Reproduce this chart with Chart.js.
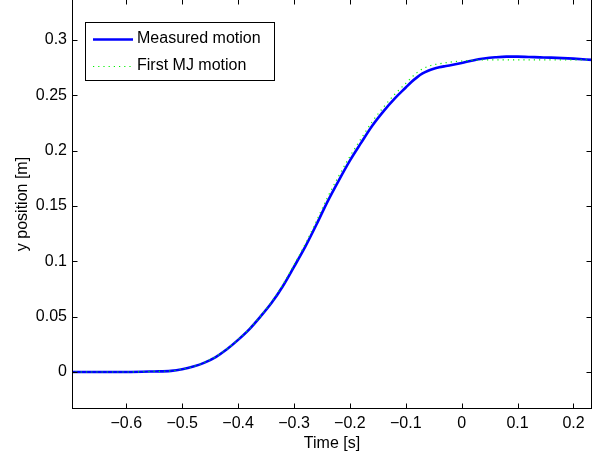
<!DOCTYPE html>
<html><head><meta charset="utf-8">
<script src="https://cdn.jsdelivr.net/npm/chart.js@4"></script>
<style>
html,body{margin:0;padding:0;background:#fff;}
#wrap{position:relative;width:603px;height:453px;overflow:hidden;background:#fff;}
#c{position:absolute;left:0;top:-1px;}
</style></head><body>
<div id="wrap"><canvas id="c" width="603" height="454"></canvas></div>
<script>
// ---- data ----
const seriesNames = ['Measured motion', 'First MJ motion'];
const timeMeasured = [-0.70,-0.65,-0.60,-0.55,-0.52,-0.50,-0.48,-0.46,-0.44,-0.42,-0.40,-0.38,-0.36,-0.34,-0.32,-0.30,-0.28,-0.26,-0.24,-0.22,-0.20,-0.18,-0.16,-0.14,-0.12,-0.10,-0.09,-0.08,-0.07,-0.06,-0.05,-0.04,-0.03,-0.02,0.00,0.02,0.04,0.06,0.08,0.10,0.12,0.14,0.16,0.18,0.20,0.233];
const yMeasured    = [0.0000,0.0000,0.0000,0.0005,0.0010,0.0025,0.0050,0.0085,0.0135,0.0205,0.0290,0.0385,0.0500,0.0625,0.0775,0.0950,0.1130,0.1330,0.1540,0.1730,0.1910,0.2070,0.2225,0.2355,0.2470,0.2570,0.2620,0.2662,0.2697,0.2722,0.2740,0.2753,0.2763,0.2772,0.2792,0.2815,0.2832,0.2843,0.2849,0.2849,0.2846,0.2843,0.2840,0.2836,0.2831,0.2820];
const timeMJ = [-0.70,-0.65,-0.60,-0.55,-0.52,-0.50,-0.48,-0.46,-0.44,-0.42,-0.40,-0.38,-0.36,-0.34,-0.32,-0.30,-0.28,-0.26,-0.24,-0.22,-0.20,-0.18,-0.16,-0.14,-0.12,-0.10,-0.08,-0.06,-0.04,-0.02,0.00,0.02,0.04,0.06,0.08,0.10,0.12,0.14,0.16,0.18,0.20,0.233];
const yMJ          = [0.0000,0.0000,0.0000,0.0005,0.0010,0.0025,0.0050,0.0087,0.0138,0.0208,0.0293,0.0390,0.0505,0.0635,0.0790,0.0968,0.1155,0.1362,0.1578,0.1770,0.1948,0.2108,0.2262,0.2392,0.2508,0.2608,0.2705,0.2762,0.2785,0.2800,0.2810,0.2816,0.2820,0.2820,0.2820,0.2820,0.2820,0.2820,0.2820,0.2820,0.2820,0.2820];
const xTickValues = [-0.6,-0.5,-0.4,-0.3,-0.2,-0.1,0,0.1,0.2];
const xTickLabels = ['\u22120.6','\u22120.5','\u22120.4','\u22120.3','\u22120.2','\u22120.1','0','0.1','0.2'];
const yTickValues = [0,0.05,0.1,0.15,0.2,0.25,0.3];
const yTickLabels = ['0','0.05','0.1','0.15','0.2','0.25','0.3'];
const xTitle = 'Time [s]';
const yTitle = 'y position [m]';

// ---- chart ----
const FONT = "'Liberation Sans', Arial, Helvetica, sans-serif";
Chart.defaults.font.family = FONT;
Chart.defaults.font.size = 16;
Chart.defaults.color = '#000';

function labelFor(values, labels, v) {
  for (let i = 0; i < values.length; i++) if (Math.abs(values[i] - v) < 1e-9) return labels[i];
  return '';
}

const framePlugin = {
  id: 'frame',
  afterDatasetsDraw(chart) {
    const {ctx, chartArea: a, scales: {x, y}} = chart;
    ctx.save();
    ctx.strokeStyle = '#000';
    ctx.lineWidth = 1;
    const L = Math.round(a.left) + 0.5, R = Math.round(a.right) - 0.5;
    const T = Math.round(a.top) + 0.5, B = Math.round(a.bottom) - 0.5;
    ctx.strokeRect(L, T, R - L, B - T);
    const tl = 5;
    ctx.beginPath();
    x.ticks.forEach(t => {
      const px = Math.round(x.getPixelForValue(t.value)) + 0.5;
      ctx.moveTo(px, B); ctx.lineTo(px, B - tl);
      ctx.moveTo(px, T); ctx.lineTo(px, T + tl);
    });
    y.ticks.forEach(t => {
      const py = Math.round(y.getPixelForValue(t.value)) + 0.5;
      ctx.moveTo(L, py); ctx.lineTo(L + tl, py);
      ctx.moveTo(R, py); ctx.lineTo(R - tl, py);
    });
    ctx.stroke();
    ctx.restore();
  },
  afterDraw(chart) {
    const ctx = chart.ctx;
    const ds = chart.data.datasets;
    ctx.save();
    const bx = 85.5, by = 23.5, bw = 189, bh = 58;
    ctx.fillStyle = '#fff';
    ctx.fillRect(bx, by, bw, bh);
    ctx.strokeStyle = '#000';
    ctx.lineWidth = 1;
    ctx.strokeRect(bx, by, bw, bh);
    const rows = [40, 67];
    [0, 1].forEach((di, i) => {
      const d = ds[di];
      const yy = rows[i];
      ctx.save();
      ctx.strokeStyle = d.borderColor;
      ctx.lineWidth = d.borderWidth;
      ctx.setLineDash(d.borderDash || []);
      ctx.beginPath();
      ctx.moveTo(93, yy + 0.5);
      ctx.lineTo(133, yy + 0.5);
      ctx.stroke();
      ctx.restore();
      ctx.fillStyle = '#000';
      ctx.font = '16px ' + FONT;
      ctx.textBaseline = 'middle';
      ctx.textAlign = 'left';
      ctx.fillText(d.label, 137, yy);
    });
    ctx.restore();
  }
};

new Chart(document.getElementById('c'), {
  type: 'line',
  data: {
    datasets: [
      {
        label: seriesNames[0],
        data: timeMeasured.map((t, i) => ({x: t, y: yMeasured[i]})),
        borderColor: '#0000ff',
        borderWidth: 2.6,
        pointRadius: 0,
        cubicInterpolationMode: 'monotone',
        fill: false,
        order: 2
      },
      {
        label: seriesNames[1],
        data: timeMJ.map((t, i) => ({x: t, y: yMJ[i]})),
        borderColor: '#00f000',
        borderWidth: 1.2,
        borderDash: [1.2, 4],
        pointRadius: 0,
        cubicInterpolationMode: 'monotone',
        fill: false,
        order: 1
      }
    ]
  },
  options: {
    responsive: false,
    animation: false,
    devicePixelRatio: 1,
    layout: {padding: {left: 0, right: 11, top: 0, bottom: 0}},
    plugins: {legend: {display: false}, tooltip: {enabled: false}},
    scales: {
      x: {
        type: 'linear',
        min: -0.6971,
        max: 0.2331,
        grid: {display: false, drawTicks: false},
        border: {display: false},
        ticks: {
          padding: 5,
          maxRotation: 0,
          autoSkip: false,
          callback: v => labelFor(xTickValues, xTickLabels, v)
        },
        afterBuildTicks: s => { s.ticks = xTickValues.map(v => ({value: v})); },
        title: {display: true, text: xTitle, padding: {top: 0, bottom: 0}, font: {size: 16}},
        afterFit: s => { s.height = 44; s.paddingLeft = 0; s.paddingRight = 0; }
      },
      y: {
        type: 'linear',
        min: -0.03343,
        max: 0.3370,
        grid: {display: false, drawTicks: false},
        border: {display: false},
        ticks: {
          padding: 5,
          autoSkip: false,
          callback: v => labelFor(yTickValues, yTickLabels, v)
        },
        afterBuildTicks: s => { s.ticks = yTickValues.map(v => ({value: v})); },
        title: {display: true, text: yTitle, padding: {top: 13, bottom: 0}, font: {size: 16}},
        afterFit: s => { s.width = 72; s.paddingTop = 0; s.paddingBottom = 0; }
      }
    }
  },
  plugins: [framePlugin]
});
</script>
</body></html>
